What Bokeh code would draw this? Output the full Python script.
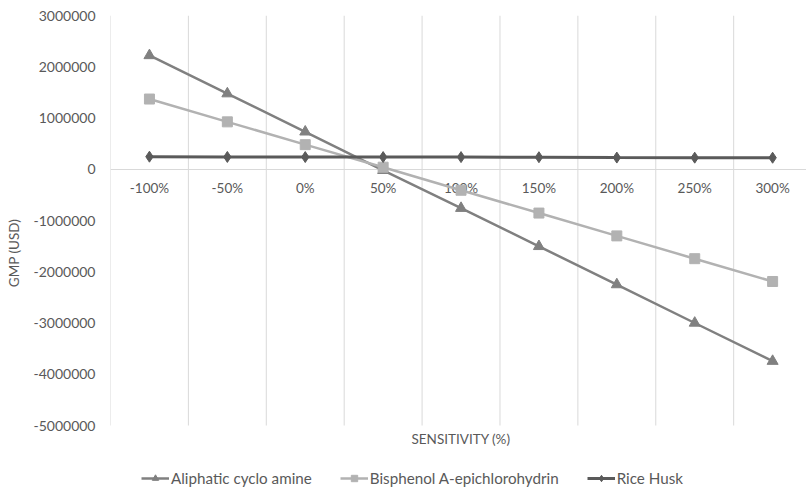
from bokeh.plotting import figure
from bokeh.models import Range1d, FixedTicker, Legend, LegendItem, ColumnDataSource
from bokeh.core.properties import value
from bokeh.embed import file_html
from bokeh.resources import INLINE

categories = ["-100%", "-50%", "0%", "50%", "100%", "150%", "200%", "250%", "300%"]
aliphatic = [2220000, 1475000, 730000, -20000, -760000, -1505000, -2250000, -3000000, -3745000]
bisphenol = [1370000, 925000, 480000, 40000, -410000, -855000, -1300000, -1745000, -2190000]
rice_husk = [245000, 240000, 238000, 238000, 237000, 235000, 228000, 226000, 225000]
y_ticks = [3000000, 2000000, 1000000, 0, -1000000, -2000000, -3000000, -4000000, -5000000]
x_title = "SENSITIVITY (%)"
y_title = "GMP (USD)"

FONT = "Lato"
TXT = "#595959"
GRID = "#d9d9d9"

W, H = 806, 490
LEFT, TOP = 110, 15
PLOT_H = 410          # height of the value area (3M .. -5M)
BOTTOM_AREA = H - TOP - PLOT_H   # room under the value area for title + legend

y_max, y_min = max(y_ticks), min(y_ticks)
y_low = y_min - BOTTOM_AREA / PLOT_H * (y_max - y_min)

xs = list(range(len(categories)))
boundaries = [i - 0.5 for i in range(len(categories) + 1)]

p = figure(width=W, height=H, output_backend="svg", toolbar_location=None,
           x_axis_location=None,
           x_range=Range1d(-0.5, 8.435), y_range=Range1d(y_low, y_max),
           min_border_left=LEFT, min_border_top=TOP, min_border_right=0, min_border_bottom=0)
p.outline_line_color = None
p.background_fill_color = "white"
p.border_fill_color = "white"

# grid: vertical category separators only over the value area, zero line across
p.xgrid.visible = False
p.ygrid.ticker = FixedTicker(ticks=[0])
p.ygrid.grid_line_color = GRID
p.ygrid.grid_line_width = 1.2
n = len(boundaries)
p.segment(x0=boundaries, y0=[y_min] * n, x1=boundaries, y1=[y_max] * n,
          line_color=GRID, line_width=1)

# y axis
p.yaxis.ticker = FixedTicker(ticks=y_ticks)
p.yaxis.major_label_overrides = {t: str(t) for t in y_ticks}
p.yaxis.axis_line_color = None
p.yaxis.major_tick_line_color = None
p.yaxis.minor_tick_line_color = None
p.yaxis.major_tick_in = 0
p.yaxis.major_tick_out = 0
p.yaxis.major_label_standoff = 15
p.yaxis.major_label_text_font = FONT
p.yaxis.major_label_text_font_size = "14px"
p.yaxis.major_label_text_color = TXT
p.yaxis.axis_label = y_title
p.yaxis.axis_label_text_font = FONT
p.yaxis.axis_label_text_font_size = "13.5px"
p.yaxis.axis_label_text_font_style = "normal"
p.yaxis.axis_label_text_color = TXT
p.yaxis.axis_label_standoff = 8

# x category labels just below the zero line
p.text(x=xs, y=[0] * len(xs), text=categories, text_font=value(FONT),
       text_font_size="13.5px", text_color=TXT, text_align="center",
       text_baseline="middle", y_offset=19)

# x axis title under the value area
p.text(x=[xs[len(xs) // 2]], y=[y_min], text=[x_title], text_font=value(FONT),
       text_font_size="13.5px", text_color=TXT, text_align="center",
       text_baseline="middle", y_offset=13)

series = [
    ("Aliphatic cyclo amine", aliphatic, "#808080", "triangle", 11, 2.5),
    ("Bisphenol A-epichlorohydrin", bisphenol, "#b2b2b2", "square", 10, 2.5),
    ("Rice Husk", rice_husk, "#5a5a5a", "diamond", 11, 3),
]
items = []
for name, vals, color, marker, size, lw in series:
    src = ColumnDataSource(dict(x=xs, y=vals))
    lr = p.line("x", "y", source=src, line_color=color, line_width=lw)
    sr = p.scatter("x", "y", source=src, marker=marker, size=size,
                   fill_color=color, line_color=color)
    items.append(LegendItem(label=name, renderers=[lr, sr]))

legend = Legend(items=items, orientation="horizontal", location=(31, 3),
                label_text_font=FONT, label_text_font_size="15.2px", label_text_color=TXT,
                border_line_color=None, background_fill_alpha=0,
                glyph_width=28, glyph_height=16, label_standoff=2, spacing=28,
                padding=2, margin=0)
p.add_layout(legend)

open("out.html", "w").write(file_html(p, INLINE))
